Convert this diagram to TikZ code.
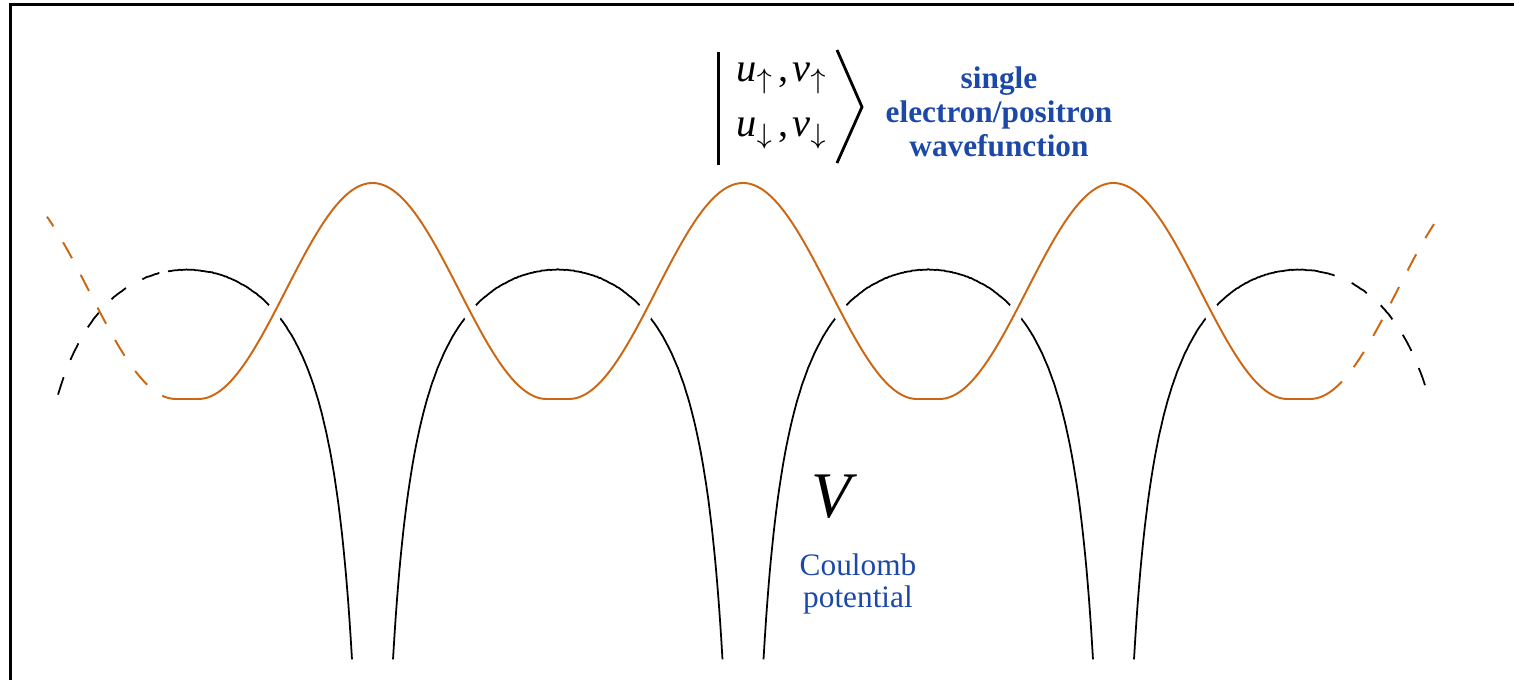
\documentclass[tikz,border=0pt]{standalone}
\usepackage{fontspec}
\setmainfont{Liberation Serif}
\usepackage{xcolor}
\definecolor{wavecol}{RGB}{204,102,17}
\definecolor{labelblue}{RGB}{28,72,168}

\begin{document}
\begin{tikzpicture}[x=0.01cm,y=-0.01cm,
    declare function={vpot(\x,\a,\b)=270+3682*(pow(\x-\a,-0.6)+pow(\b-\x,-0.6)-0.08716);
      wave(\x)=399-108*(1+cos(min(abs(\x-2),abs(\x-372.5),abs(\x-743),abs(\x-1113.5),abs(\x-1484),174)/174*180));},
    potline/.style={line width=0.5pt,black},
    waveline/.style={line width=0.55pt,wavecol},
    broken/.style={dash pattern=on 5.2pt off 5.3pt},
    halo/.style={draw=white,line width=4.5pt},
    ketrow/.style={font=\fontsize{11.5}{13}\selectfont,anchor=base}]
  \useasboundingbox (0,0) rectangle (1514,680);
  % frame
  \draw[line width=0.75pt] (10.5,680) -- (10.5,4.7) -- (1514,4.7);

  % Coulomb potential
  \draw[potline,broken] plot[domain=58:168,samples=60] (\x,{vpot(\x,2,372.5)});
  \draw[potline] plot[domain=168:352,samples=150] (\x,{vpot(\x,2,372.5)});
  \draw[potline] plot[domain=393:722.5,samples=260] (\x,{vpot(\x,372.5,743)});
  \draw[potline] plot[domain=763.5:1093,samples=260] (\x,{vpot(\x,743,1113.5)});
  \draw[potline] plot[domain=1134:1317,samples=150] (\x,{vpot(\x,1113.5,1484)});
  \draw[potline,broken] plot[domain=1317:1428,samples=60] (\x,{vpot(\x,1113.5,1484)});

  % wavefunction
  \draw[halo] plot[domain=180:1328,samples=400] (\x,{wave(\x)});
  \draw[waveline] plot[domain=180:1328,samples=400] (\x,{wave(\x)});
  \draw[waveline,broken] plot[domain=180:47,samples=60] (\x,{wave(\x)});
  \draw[waveline,broken] plot[domain=1328:1434,samples=60] (\x,{wave(\x)});

  % ket
  \draw[line width=0.75pt] (718.5,52) -- (718.5,165);
  \draw[line width=0.8pt] (837,50) -- (862,107) -- (837,163);
  \node[ketrow] (ketup) at (782,82)
    {\textit{u}$_{\uparrow}$\kern1.5pt,\kern1pt\textit{v}$_{\uparrow}$};
  \node[ketrow] (ketdown) at (782,137)
    {\textit{u}$_{\downarrow}$\kern1.5pt,\kern1pt\textit{v}$_{\downarrow}$};
  \node[font=\bfseries\fontsize{8.9}{9.6}\selectfont,text=labelblue,align=center,inner sep=0pt] (wflabel) at (999,112)
    {single\\electron/positron\\wavefunction};

  % labels
  \node[font=\itshape\fontsize{18.5}{20}\selectfont,anchor=base] (vsym) at (831,518) {V};
  \node[font=\fontsize{8.9}{9.2}\selectfont,text=labelblue,align=center,inner sep=0pt] (vlabel) at (858,584)
    {Coulomb\\potential};
\end{tikzpicture}
\end{document}
